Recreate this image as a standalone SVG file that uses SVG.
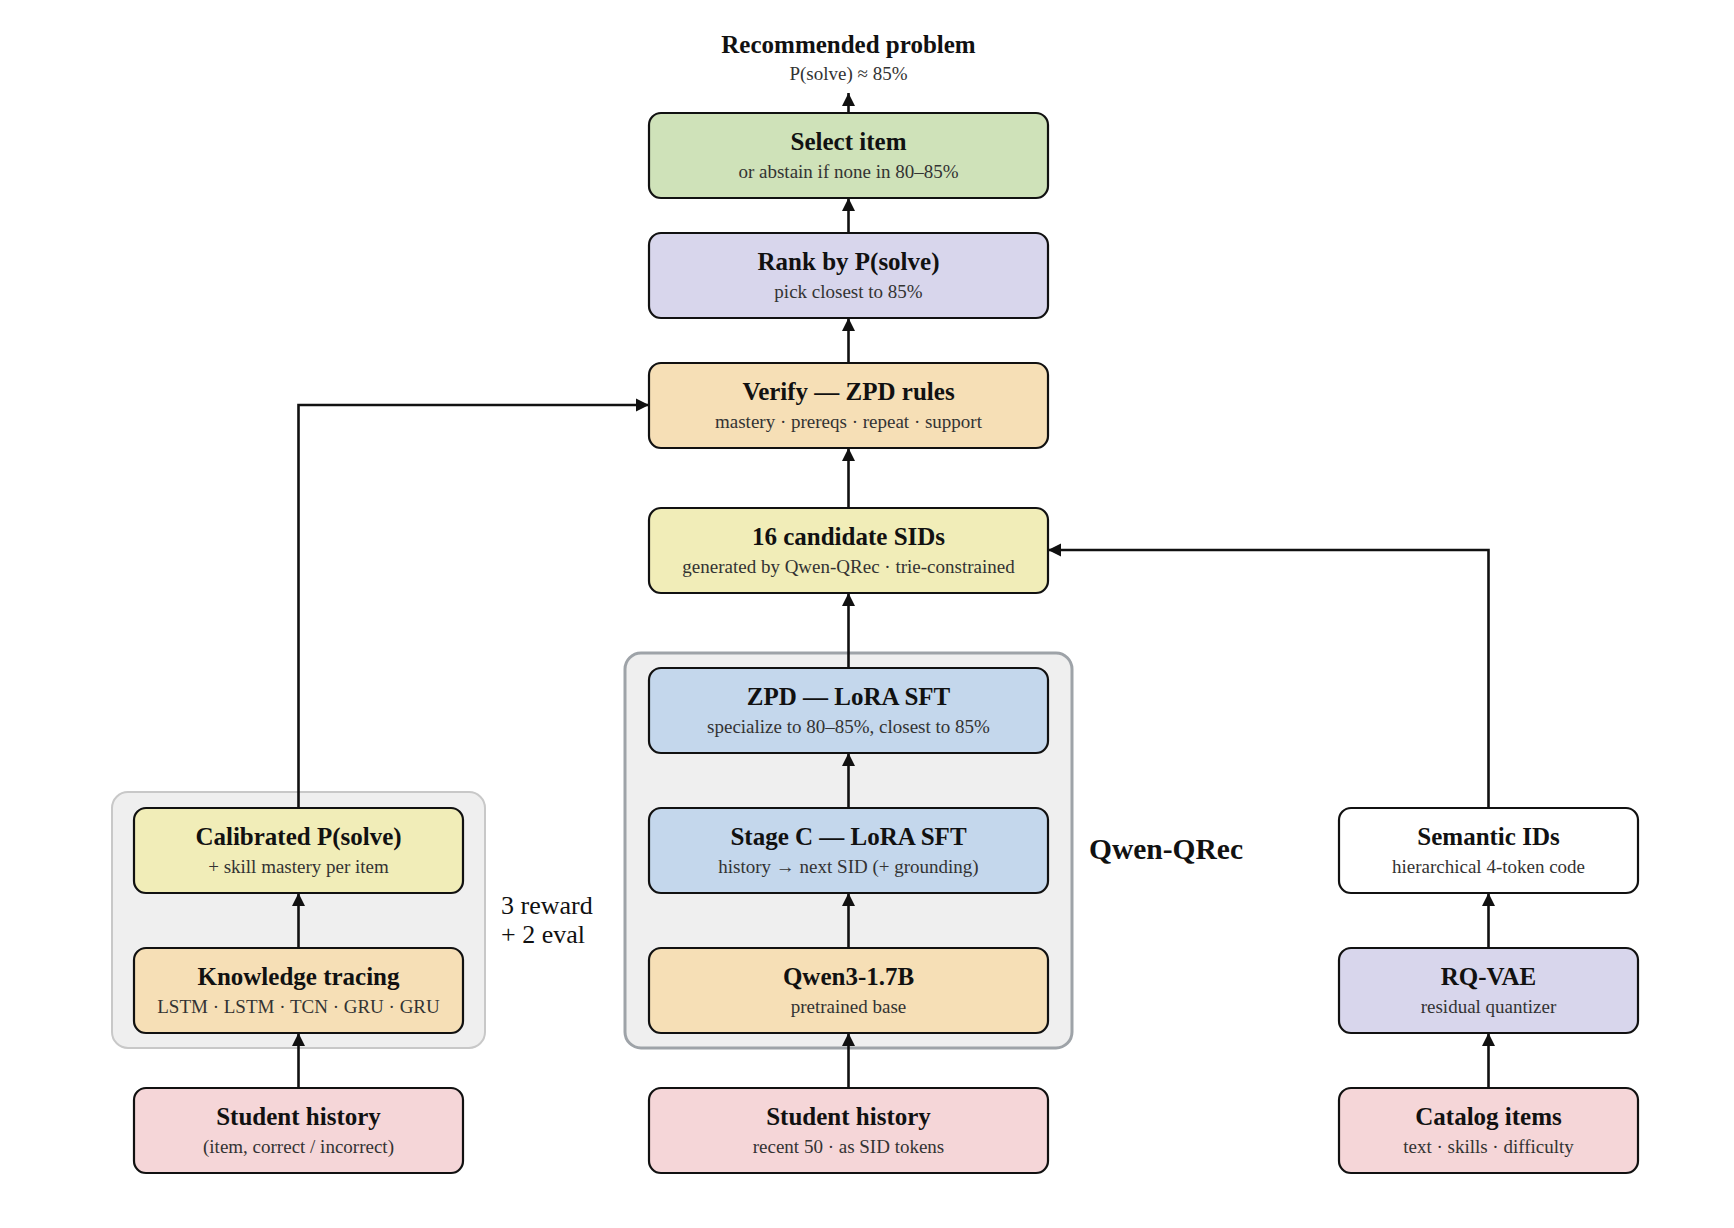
<svg xmlns="http://www.w3.org/2000/svg" width="1734" height="1228" viewBox="0 0 1734 1228">
<style>
.node rect{stroke:#111;stroke-width:2.2}
.t{font-family:"Liberation Serif","Times New Roman",serif;font-weight:bold;font-size:25px;fill:#111;text-anchor:middle}
.s{font-family:"Liberation Serif","Times New Roman",serif;font-size:19px;fill:#333;text-anchor:middle}
.lbl{font-family:"Liberation Serif","Times New Roman",serif;fill:#111}
.conn path{fill:none;stroke:#111;stroke-width:2.6}
.green{fill:#cfe2b9}.lav{fill:#d8d6ec}.peach{fill:#f6dfb6}.yel{fill:#f1edb8}.blue{fill:#c4d7ec}.pink{fill:#f5d6d8}.white{fill:#fff}
</style>
<defs>
<marker id="ah" markerUnits="userSpaceOnUse" markerWidth="14" markerHeight="14" viewBox="0 0 14 14" refX="13" refY="7" orient="auto">
<path d="M0,0.5 L13,7 L0,13.5 Z" fill="#111"/>
</marker>
</defs>
<rect width="1734" height="1228" fill="#fff"/>
<g id="groups">
<rect id="kt-group" x="112" y="792" width="373" height="256" rx="16" fill="#efefef" stroke="#c8c8c8" stroke-width="2"/>
<rect id="qwen-group" x="625" y="653" width="447" height="395" rx="16" fill="#efefef" stroke="#9ea3a8" stroke-width="3"/>
</g>
<g id="labels">
<text class="lbl" x="848.5" y="53" text-anchor="middle" font-weight="bold" font-size="25">Recommended problem</text>
<text class="lbl" x="848.5" y="80" text-anchor="middle" font-size="19" style="fill:#333">P(solve) ≈ 85%</text>
<text class="lbl" x="1089" y="859" font-weight="bold" font-size="29.5">Qwen-QRec</text>
<text class="lbl" x="501" y="914" font-size="26">3 reward</text>
<text class="lbl" x="501" y="943" font-size="26">+ 2 eval</text>
</g>
<g id="connectors" class="conn">
<path d="M848.5 113 V93" marker-end="url(#ah)"/>
<path d="M848.5 233 V198" marker-end="url(#ah)"/>
<path d="M848.5 363 V318" marker-end="url(#ah)"/>
<path d="M848.5 508 V448" marker-end="url(#ah)"/>
<path d="M848.5 668 V593" marker-end="url(#ah)"/>
<path d="M848.5 808 V753" marker-end="url(#ah)"/>
<path d="M848.5 948 V893" marker-end="url(#ah)"/>
<path d="M848.5 1088 V1033" marker-end="url(#ah)"/>
<path d="M298.5 948 V893" marker-end="url(#ah)"/>
<path d="M298.5 1088 V1033" marker-end="url(#ah)"/>
<path d="M1488.5 948 V893" marker-end="url(#ah)"/>
<path d="M1488.5 1088 V1033" marker-end="url(#ah)"/>
<path d="M298.5 808 V405 H649" marker-end="url(#ah)"/>
<path d="M1488.5 808 V550 H1048" marker-end="url(#ah)"/>
</g>
<g id="select" class="node"><rect class="green" x="649" y="113" width="399" height="85" rx="12"/><text class="t" x="848.5" y="150">Select item</text><text class="s" x="848.5" y="178">or abstain if none in 80–85%</text></g>
<g id="rank" class="node"><rect class="lav" x="649" y="233" width="399" height="85" rx="12"/><text class="t" x="848.5" y="270">Rank by P(solve)</text><text class="s" x="848.5" y="298">pick closest to 85%</text></g>
<g id="verify" class="node"><rect class="peach" x="649" y="363" width="399" height="85" rx="12"/><text class="t" x="848.5" y="400">Verify — ZPD rules</text><text class="s" x="848.5" y="428">mastery · prereqs · repeat · support</text></g>
<g id="candidates" class="node"><rect class="yel" x="649" y="508" width="399" height="85" rx="12"/><text class="t" x="848.5" y="545">16 candidate SIDs</text><text class="s" x="848.5" y="573">generated by Qwen-QRec · trie-constrained</text></g>
<g id="zpd" class="node"><rect class="blue" x="649" y="668" width="399" height="85" rx="12"/><text class="t" x="848.5" y="705">ZPD — LoRA SFT</text><text class="s" x="848.5" y="733">specialize to 80–85%, closest to 85%</text></g>
<g id="stagec" class="node"><rect class="blue" x="649" y="808" width="399" height="85" rx="12"/><text class="t" x="848.5" y="845">Stage C — LoRA SFT</text><text class="s" x="848.5" y="873">history → next SID (+ grounding)</text></g>
<g id="qwen3" class="node"><rect class="peach" x="649" y="948" width="399" height="85" rx="12"/><text class="t" x="848.5" y="985">Qwen3-1.7B</text><text class="s" x="848.5" y="1013">pretrained base</text></g>
<g id="history-c" class="node"><rect class="pink" x="649" y="1088" width="399" height="85" rx="12"/><text class="t" x="848.5" y="1125">Student history</text><text class="s" x="848.5" y="1153">recent 50 · as SID tokens</text></g>
<g id="calibrated" class="node"><rect class="yel" x="134" y="808" width="329" height="85" rx="12"/><text class="t" x="298.5" y="845">Calibrated P(solve)</text><text class="s" x="298.5" y="873">+ skill mastery per item</text></g>
<g id="kt" class="node"><rect class="peach" x="134" y="948" width="329" height="85" rx="12"/><text class="t" x="298.5" y="985">Knowledge tracing</text><text class="s" x="298.5" y="1013">LSTM · LSTM · TCN · GRU · GRU</text></g>
<g id="history-l" class="node"><rect class="pink" x="134" y="1088" width="329" height="85" rx="12"/><text class="t" x="298.5" y="1125">Student history</text><text class="s" x="298.5" y="1153">(item, correct / incorrect)</text></g>
<g id="semantic" class="node"><rect class="white" x="1339" y="808" width="299" height="85" rx="12"/><text class="t" x="1488.5" y="845">Semantic IDs</text><text class="s" x="1488.5" y="873">hierarchical 4-token code</text></g>
<g id="rqvae" class="node"><rect class="lav" x="1339" y="948" width="299" height="85" rx="12"/><text class="t" x="1488.5" y="985">RQ-VAE</text><text class="s" x="1488.5" y="1013">residual quantizer</text></g>
<g id="catalog" class="node"><rect class="pink" x="1339" y="1088" width="299" height="85" rx="12"/><text class="t" x="1488.5" y="1125">Catalog items</text><text class="s" x="1488.5" y="1153">text · skills · difficulty</text></g>
</svg>
